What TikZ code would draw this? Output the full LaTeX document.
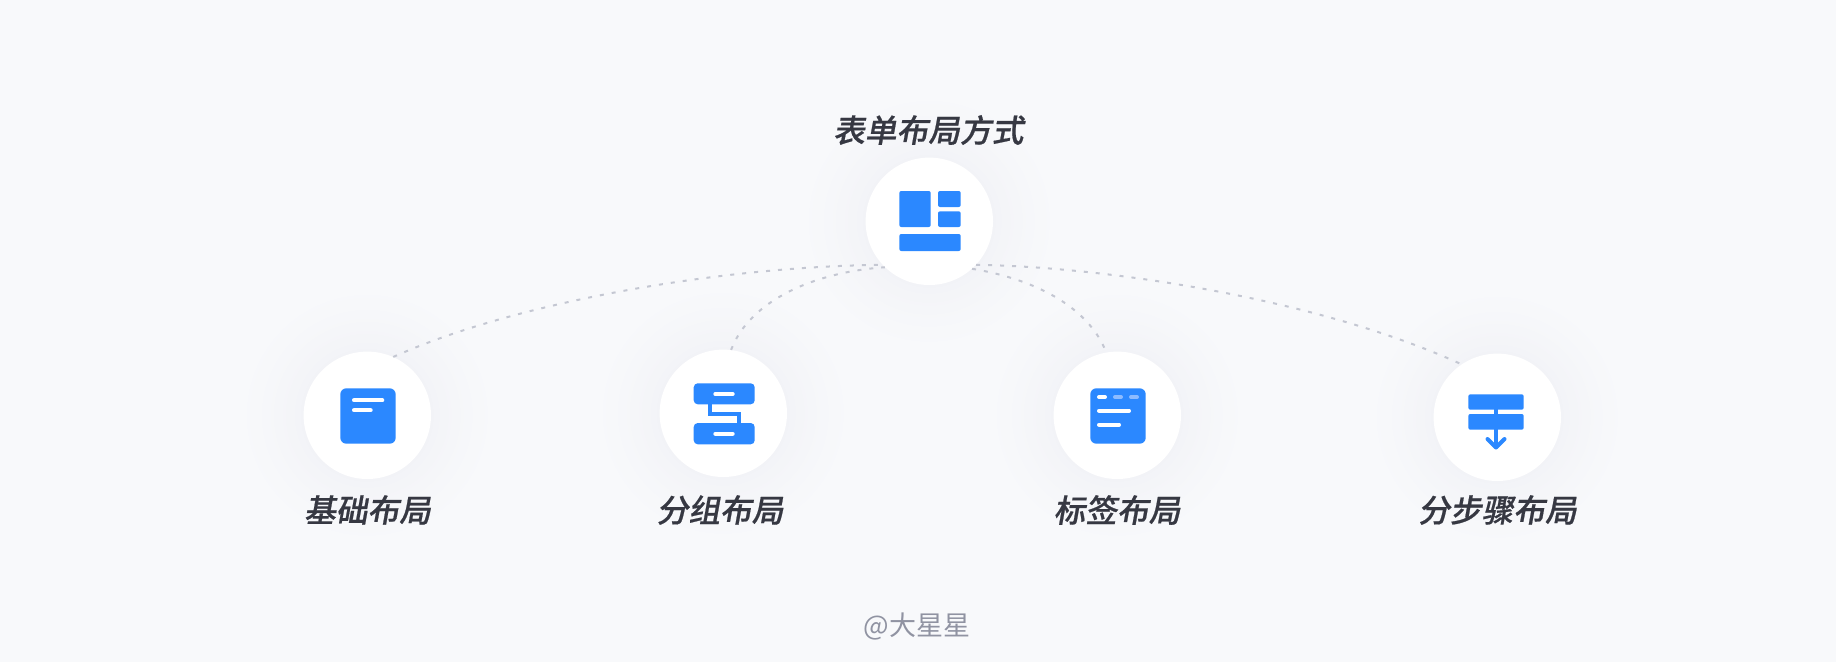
\documentclass[tikz,border=0pt]{standalone}
\usepackage{fontspec}
\newfontfamily\cjkslant[FakeSlant=0.18,FakeBold=0.6]{Noto Sans CJK SC Medium}
\newfontfamily\cjkreg{Noto Sans CJK SC}
\definecolor{bgc}{HTML}{F8F9FB}
\definecolor{glowc}{HTML}{F2F3F7}
\definecolor{iconc}{HTML}{2B88FF}
\definecolor{titlec}{HTML}{363842}
\definecolor{markc}{HTML}{9093A2}
\definecolor{dashc}{HTML}{C4C7D2}
\definecolor{tabc}{HTML}{8DBBFF}
\tikzset{
  x=1pt,y=-1pt,
  disc/.style={circle,fill=white,inner sep=0pt,minimum size=127.4pt},
  label/.style={inner sep=0pt,text=titlec,font=\fontsize{31.7}{34}\selectfont\cjkslant},
  link/.style={draw=dashc,line width=2pt,dash pattern=on 4pt off 8pt},
  ibox/.style={fill=iconc,rounded corners=2pt},
  wline/.style={draw=white,line width=4pt,line cap=round},
  bline/.style={draw=iconc,line width=4pt},
}
\newcommand{\glowat}[1]{%
  \foreach \i in {0,...,24}{%
    \pgfmathsetmacro{\rr}{135-3*\i}%
    \pgfmathsetmacro{\mixv}{100*(\i/24)^1.5}%
    \fill[glowc!\mixv!bgc] (#1) circle[radius=\rr pt];
  }%
}
\begin{document}
\begin{tikzpicture}
\useasboundingbox (0,0) rectangle (1836,662);
\fill[bgc] (0,0) rectangle (1836,662);
\coordinate (cT) at (929.3,221.3);
\coordinate (c1) at (367.3,415.3);
\coordinate (c2) at (723.3,413.3);
\coordinate (c3) at (1117.3,415.3);
\coordinate (c4) at (1497.3,417.3);
\glowat{cT}
\glowat{c1}
\glowat{c2}
\glowat{c3}
\glowat{c4}
\node[disc] (top) at (cT) {};
\node[disc] (n1) at (c1) {};
\node[disc] (n2) at (c2) {};
\node[disc] (n3) at (c3) {};
\node[disc] (n4) at (c4) {};
% connectors, from circle edge to circle edge
\draw[link] (n1.66) .. controls (520,300) and (730,266) .. (top.223);
\draw[link] (n2.83) .. controls (750,300) and (815,272) .. (top.226);
\draw[link] (top.-43) .. controls (1090,266) and (1310,295) .. (n4.124);
\draw[link] (top.-48) .. controls (1040,280) and (1090,310) .. (n3.100);
% top icon
\fill[ibox] (899.3,191) rectangle (930.7,227);
\fill[ibox] (938,191) rectangle (960.7,207);
\fill[ibox] (938,211.3) rectangle (960.7,227);
\fill[ibox] (899.3,234) rectangle (960.7,251);
% icon 1
\fill[ibox,rounded corners=6pt] (340.3,388.3) rectangle (395.7,443.7);
\draw[wline] (354,400.3) -- (382.3,400.3);
\draw[wline] (354,410.3) -- (370.7,410.3);
% icon 2
\draw[bline] (710,404) -- (710,413.5) -- (738.5,413.5) -- (738.5,423);
\fill[ibox,rounded corners=4pt] (693.7,383.3) rectangle (754.7,404.3);
\fill[ibox,rounded corners=4pt] (693.7,423) rectangle (754.7,444.3);
\draw[wline] (715.3,394) -- (732.7,394);
\draw[wline] (715.3,433.7) -- (732.7,433.7);
% icon 3
\fill[ibox,rounded corners=6pt] (1090.3,388.3) rectangle (1145.7,443.7);
\draw[wline] (1099,397) -- (1105,397);
\draw[wline,draw=tabc] (1115,397) -- (1121,397);
\draw[wline,draw=tabc] (1131,397) -- (1137,397);
\draw[wline] (1099,410.7) -- (1129,410.7);
\draw[wline] (1099,424.7) -- (1119,424.7);
% icon 4
\fill[ibox] (1468.3,394.3) rectangle (1523.7,409.7);
\fill[ibox] (1468.3,414) rectangle (1523.7,429.7);
\draw[bline] (1496,409) -- (1496,447);
\draw[bline,line cap=round,line join=round] (1487.5,439) -- (1496,447.5) -- (1504.5,439);
% labels
\node[label] (tT) at (928.3,130) {表单布局方式};
\node[label] (t1) at (367.5,510) {基础布局};
\node[label] (t2) at (720,510) {分组布局};
\node[label] (t3) at (1117,510) {标签布局};
\node[label] (t4) at (1497.5,510) {分步骤布局};
\node[inner sep=0pt,text=markc,font=\fontsize{27}{30}\selectfont\cjkreg] (wm) at (917,626.5) {@大星星};
\end{tikzpicture}
\end{document}
